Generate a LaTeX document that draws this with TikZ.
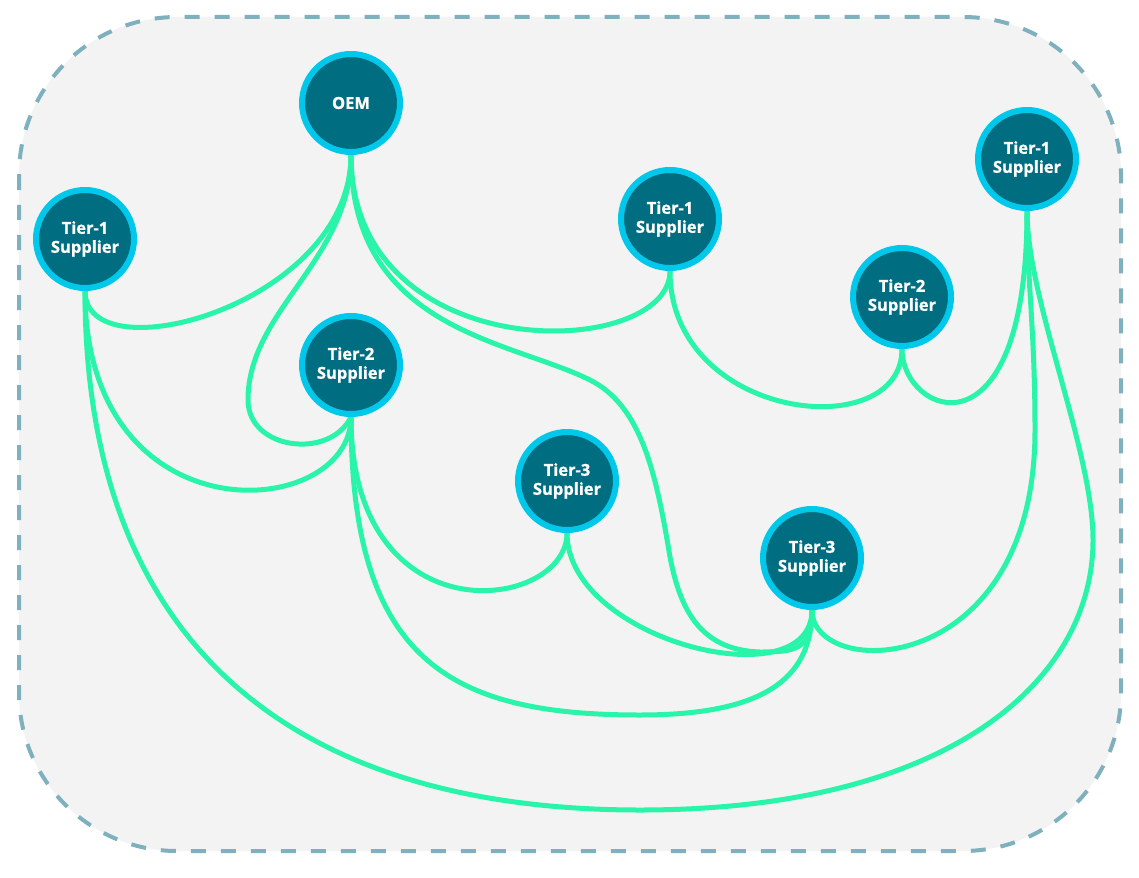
\documentclass[tikz,border=0pt]{standalone}
\usepackage{fontspec}
\setmainfont{Open Sans}[BoldFeatures={FakeBold=1}]
\pgfdeclarelayer{back}
\pgfdeclarelayer{links}
\pgfsetlayers{back,links,main}
\definecolor{panelfill}{RGB}{243,243,243}
\definecolor{paneledge}{RGB}{126,176,190}
\definecolor{nodefill}{RGB}{0,110,128}
\definecolor{noderim}{RGB}{0,200,234}
\definecolor{linkgreen}{RGB}{40,245,170}
\tikzset{
  party/.style={circle, draw=noderim, fill=nodefill, line width=6pt,
    minimum size=98pt, inner sep=0pt, align=center, text=white,
    font=\fontsize{16.5}{19}\selectfont\bfseries},
  link/.style={draw=linkgreen, line width=5pt, line cap=round},
  panel/.style={draw=paneledge, fill=panelfill, line width=4pt,
    dash pattern=on 15pt off 15pt, rounded corners=158pt}
}
\begin{document}
\begin{tikzpicture}[x=1pt,y=-1pt]
\path[use as bounding box] (0,0) rectangle (1139,877);
\begin{pgfonlayer}{back}
\fill[white] (0,0) rectangle (1139,877);
\path[panel] (19,17) rectangle (1121,851);
\end{pgfonlayer}

\node[party] (oem) at (351,103) {OEM};
\node[party] (t1a) at (85,239) {Tier-1\\Supplier};
\node[party] (t1b) at (670,219) {Tier-1\\Supplier};
\node[party] (t1c) at (1027,159) {Tier-1\\Supplier};
\node[party] (t2a) at (351,365) {Tier-2\\Supplier};
\node[party] (t2b) at (902,297) {Tier-2\\Supplier};
\node[party] (t3a) at (567,481) {Tier-3\\Supplier};
\node[party] (t3b) at (812,558) {Tier-3\\Supplier};

\begin{pgfonlayer}{links}
\draw[link] (oem.south) .. controls +(0,150) and +(0,85) .. (t1a.south);
\draw[link] (oem.south) .. controls +(0,105) and (248,310) .. (248,400)
  .. controls (248,450) and (330,460) .. (t2a.south);
\draw[link] (oem.south) .. controls +(0,215) and +(0,90) .. (t1b.south);
\draw[link] (oem.south) .. controls +(0,175) and (510,340) .. (590,380)
  .. controls (640,405) and (655,470) .. (668,545)
  .. controls (678,610) and (700,650) .. (760,652)
  .. controls (795,652) and +(0,40) .. (t3b.south);
\draw[link] (t1a.south) .. controls +(0,250) and +(0,105) .. (t2a.south);
\draw[link] (t1a.south) .. controls +(0,360) and (300,810) .. (640,810)
  .. controls (950,810) and (1093,680) .. (1093,540)
  .. controls (1093,450) and (1027,300) .. (t1c.south);
\draw[link] (t2a.south) .. controls +(0,224) and +(0,78) .. (t3a.south);
\draw[link] (t2a.south) .. controls +(0,244) and (450,715) .. (640,715)
  .. controls (760,715) and +(0,71) .. (t3b.south);
\draw[link] (t3a.south) .. controls +(0,108) and +(0,91) .. (t3b.south);
\draw[link] (t3b.south) .. controls +(0,71) and (1035,680) .. (1035,430)
  .. controls (1035,330) and (1027,280) .. (t1c.south);
\draw[link] (t1b.south) .. controls +(0,150) and +(0,97) .. (t2b.south);
\draw[link] (t2b.south) .. controls +(0,66) and +(0,255) .. (t1c.south);
\end{pgfonlayer}
\end{tikzpicture}
\end{document}
